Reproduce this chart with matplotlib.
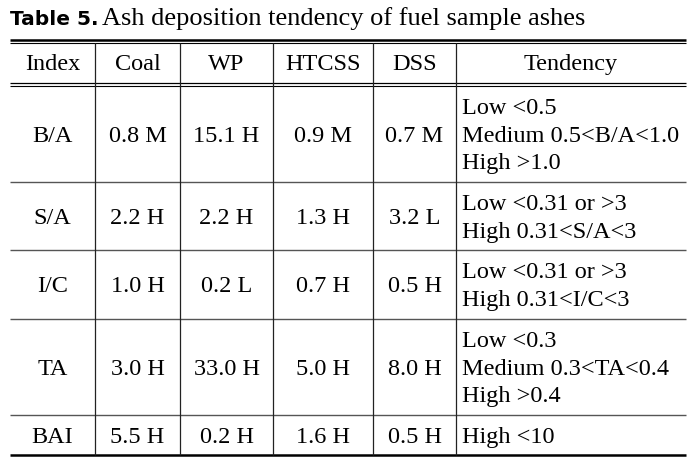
import matplotlib
matplotlib.use("Agg")
import matplotlib.pyplot as plt

# Table content
headers = ["Index", "Coal", "WP", "HTCSS", "DSS", "Tendency"]
indices = ["B/A", "S/A", "I/C", "TA", "BAI"]
coal = ["0.8 M", "2.2 H", "1.0 H", "3.0 H", "5.5 H"]
wp = ["15.1 H", "2.2 H", "0.2 L", "33.0 H", "0.2 H"]
htcss = ["0.9 M", "1.3 H", "0.7 H", "5.0 H", "1.6 H"]
dss = ["0.7 M", "3.2 L", "0.5 H", "8.0 H", "0.5 H"]
tendency = [
    ["Low <0.5", "Medium 0.5<B/A<1.0", "High >1.0"],
    ["Low <0.31 or >3", "High 0.31<S/A<3"],
    ["Low <0.31 or >3", "High 0.31<I/C<3"],
    ["Low <0.3", "Medium 0.3<TA<0.4", "High >0.4"],
    ["High <10"],
]

# layout (pixels)
col_edges = [10, 95, 180, 273, 373, 456, 686]
line_h = 27.8
pad = 6.4
top = 41
header_bottom = 85.5
serif = "Liberation Serif"
fs = 17.5

fig = plt.figure(figsize=(6.9, 4.68), dpi=100)
ax = fig.add_axes([0, 0, 1, 1])
ax.set_xlim(0, 690)
ax.set_ylim(468, 0)
ax.axis("off")

# title
ax.text(10, 25, "Table 5.", fontfamily="DejaVu Sans", fontweight="bold",
        fontsize=14.5, va="baseline", ha="left")
ax.text(102, 25, "Ash deposition tendency of fuel sample ashes", fontfamily=serif,
        fontsize=19, va="baseline", ha="left")

left, right = col_edges[0], col_edges[-1]

# row boundaries
row_edges = [header_bottom]
for t in tendency:
    row_edges.append(row_edges[-1] + len(t) * line_h + 2 * pad)
bottom = row_edges[-1]

# rules
ax.hlines(top - 1, left, right, color="black", lw=1.8)
ax.hlines(top + 1.5, left, right, color="black", lw=0.8)
ax.hlines(header_bottom - 2.8, left, right, color="black", lw=0.9)
ax.hlines(header_bottom, left, right, color="black", lw=0.8)
for y in row_edges[1:-1]:
    ax.hlines(y, left, right, color="#555555", lw=1.0)
ax.hlines(bottom, left, right, color="black", lw=1.8)

# vertical separators
ax.vlines(col_edges[1:-1], top + 1.5, bottom, color="#222222", lw=0.9)

def baseline(yc):
    return yc + 8

# header
header_c = (top + header_bottom - 2) / 2
for i, h in enumerate(headers):
    xc = (col_edges[i] + col_edges[i + 1]) / 2
    ax.text(xc, baseline(header_c), h, fontfamily=serif, fontsize=fs,
            ha="center", va="baseline")

# body
cols = [indices, coal, wp, htcss, dss]
for r in range(len(indices)):
    yc = (row_edges[r] + row_edges[r + 1]) / 2
    for c, col in enumerate(cols):
        xc = (col_edges[c] + col_edges[c + 1]) / 2
        ax.text(xc, baseline(yc), col[r], fontfamily=serif, fontsize=fs,
                ha="center", va="baseline")
    lines = tendency[r]
    y0 = yc - (len(lines) - 1) * line_h / 2
    for k, s in enumerate(lines):
        ax.text(col_edges[5] + 6, baseline(y0 + k * line_h), s, fontfamily=serif,
                fontsize=fs, ha="left", va="baseline")

fig.savefig("out.png", dpi=100)
